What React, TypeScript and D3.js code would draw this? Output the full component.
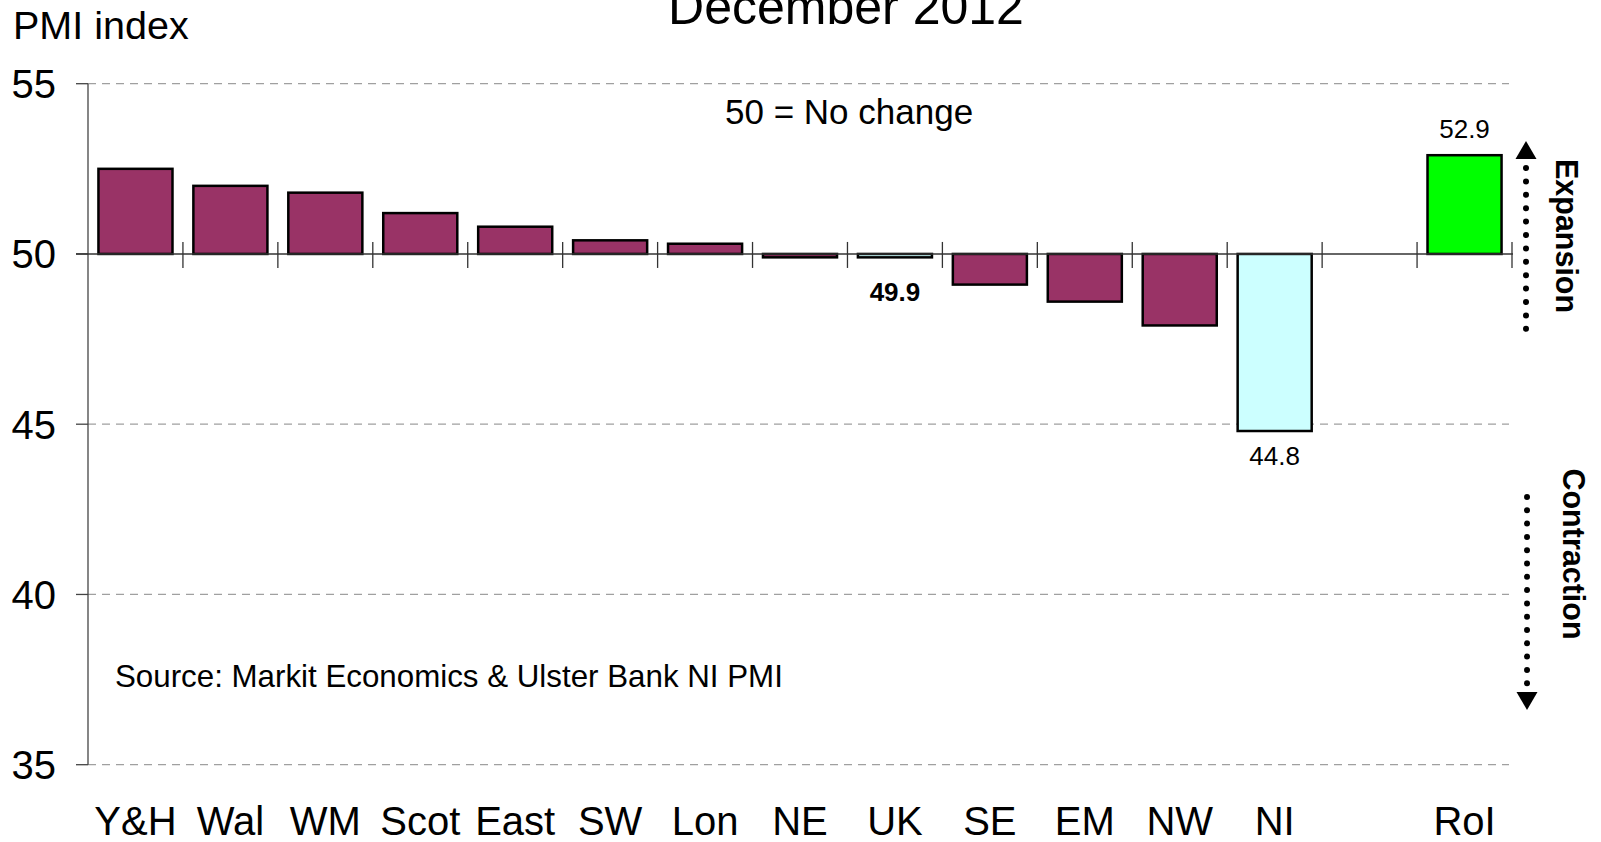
import React from "react";
import * as d3 from "d3";

const categories = ["Y&H", "Wal", "WM", "Scot", "East", "SW", "Lon", "NE", "UK", "SE", "EM", "NW", "NI", "", "RoI"];
const values: (number | null)[] = [52.5, 52.0, 51.8, 51.2, 50.8, 50.4, 50.3, 49.9, 49.9, 49.1, 48.6, 47.9, 44.8, null, 52.9];
const barKind = ["r", "r", "r", "r", "r", "r", "r", "r", "uk", "r", "r", "r", "ni", "", "roi"];
const yTicks = [35, 40, 45, 50, 55];
const valueLabels = [
  { idx: 14, text: "52.9", bold: false, pos: "above" },
  { idx: 8, text: "49.9", bold: true, pos: "below" },
  { idx: 12, text: "44.8", bold: false, pos: "below" },
];

const W = 1601;
const H = 842;
const FONT = "'Liberation Sans', Arial, Helvetica, sans-serif";
const fills: Record<string, string> = { r: "#993366", uk: "#CCFFFF", ni: "#CCFFFF", roi: "#00FF00" };

export default function App() {
  const keys = categories.map((c, i) => `${i}`);
  const x = d3.scaleBand<string>().domain(keys).range([88, 1512]).paddingInner(0.22).paddingOuter(0.11);
  const y = d3.scaleLinear().domain([35, 55]).range([764.7, 83.7]);
  const step = x.step();
  const y50 = y(50);

  const upDots = d3.range(13).map((i) => 168 + i * 13.4);
  const downDots = d3.range(15).map((i) => 497 + i * 13.3);

  return (
    <svg width={W} height={H} style={{ position: "absolute", left: 0, top: 0, background: "#fff" }} fontFamily={FONT}>
      <rect x={0} y={0} width={W} height={H} fill="#fff" />
      {/* title */}
      <text x={846} y={24} textAnchor="middle" fontSize={50} fill="#000">December 2012</text>
      <text x={13} y={39} fontSize={39.5} fill="#000">PMI index</text>

      {/* gridlines */}
      {yTicks.map((t) => (
        <g key={t}>
          {t !== 50 && (
            <line x1={88} x2={1509} y1={y(t)} y2={y(t)} stroke="#a0a0a0" strokeWidth={1.3} strokeDasharray="8,6" />
          )}
          <line x1={76} x2={88} y1={y(t)} y2={y(t)} stroke="#444" strokeWidth={1.3} />
          <text x={56} y={y(t) + 14.3} textAnchor="end" fontSize={40} fill="#000">{t}</text>
        </g>
      ))}
      {/* y axis */}
      <line x1={88} x2={88} y1={y(55)} y2={y(35)} stroke="#444" strokeWidth={1.3} />

      {/* bars */}
      {values.map((v, i) =>
        v == null ? null : (
          <rect
            key={i}
            x={x(keys[i])!}
            width={x.bandwidth()}
            y={Math.min(y(v), y50)}
            height={Math.abs(y(v) - y50)}
            fill={fills[barKind[i]]}
            stroke="#000"
            strokeWidth={2.5}
          />
        )
      )}

      {/* 50 line */}
      <line x1={76} x2={1513} y1={y50} y2={y50} stroke="#333" strokeWidth={1.5} />
      {keys.map((k, i) => (
        <line key={k} x1={88 + (i + 1) * step} x2={88 + (i + 1) * step} y1={y50 - 12} y2={y50 + 14} stroke="#333" strokeWidth={1.3} />
      ))}

      {/* category labels */}
      {categories.map((c, i) => (
        <text key={i} x={x(keys[i])! + x.bandwidth() / 2} y={835} textAnchor="middle" fontSize={40} fill="#000">{c}</text>
      ))}

      {/* value labels */}
      {valueLabels.map((l) => {
        const v = values[l.idx] as number;
        const cx = x(keys[l.idx])! + x.bandwidth() / 2;
        const ty = l.pos === "above" ? y(v) - 17.5 : l.bold ? y50 + 47 : y(v) + 34;
        return (
          <text key={l.idx} x={cx} y={ty} textAnchor="middle" fontSize={26} fontWeight={l.bold ? "bold" : "normal"} fill="#000">{l.text}</text>
        );
      })}

      <text x={725} y={124} fontSize={35} fill="#000">50 = No change</text>
      <text x={115} y={687} fontSize={31.3} fill="#000">Source: Markit Economics &amp; Ulster Bank NI PMI</text>

      {/* expansion arrow */}
      <path d="M1526,141 L1536.5,159 L1515.5,159 Z" fill="#000" />
      {upDots.map((d, i) => <circle key={i} cx={1526} cy={d} r={3} fill="#000" />)}
      <text transform="translate(1556,236) rotate(90)" textAnchor="middle" fontSize={30.5} fontWeight="bold" fill="#000">Expansion</text>

      {/* contraction arrow */}
      {downDots.map((d, i) => <circle key={i} cx={1527} cy={d} r={3} fill="#000" />)}
      <path d="M1527,710 L1537.5,692 L1516.5,692 Z" fill="#000" />
      <text transform="translate(1563,554) rotate(90)" textAnchor="middle" fontSize={30.5} fontWeight="bold" fill="#000">Contraction</text>
    </svg>
  );
}
